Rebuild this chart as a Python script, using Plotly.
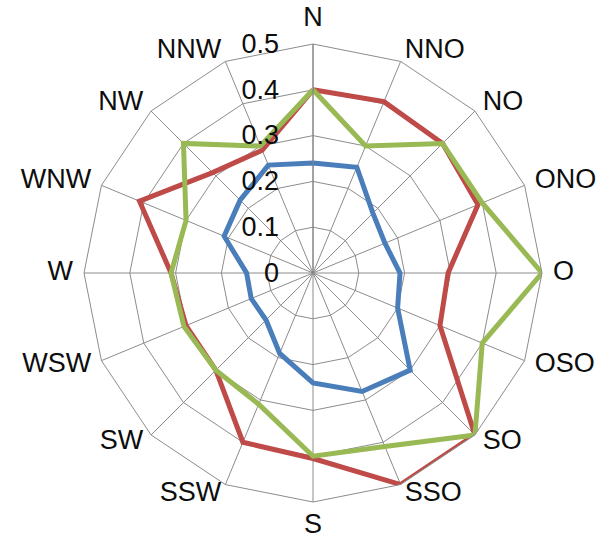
import math
import plotly.graph_objects as go

directions = ["N", "NNO", "NO", "ONO", "O", "OSO", "SO", "SSO",
              "S", "SSW", "SW", "WSW", "W", "WNW", "NW", "NNW"]

series_blue = [0.24, 0.25, 0.185, 0.17, 0.19, 0.20, 0.30, 0.28,
               0.24, 0.19, 0.145, 0.146, 0.145, 0.21, 0.225, 0.255]
series_red = [0.40, 0.405, 0.40, 0.39, 0.295, 0.30, 0.50, 0.50,
              0.405, 0.40, 0.30, 0.30, 0.31, 0.41, 0.31, 0.29]
series_green = [0.40, 0.30, 0.40, 0.40, 0.50, 0.40, 0.50, 0.41,
                0.40, 0.31, 0.30, 0.305, 0.31, 0.30, 0.40, 0.30]

radial_ticks = [0, 0.1, 0.2, 0.3, 0.4, 0.5]
radial_ticktext = ["0", "0.1", "0.2", "0.3", "0.4", "0.5"]
r_max = 0.5

colors = {"blue": "#4A7EBB", "red": "#BE4B48", "green": "#98B954"}
text_color = "#0d0d0d"
font_family = "Liberation Sans, Arial, sans-serif"

W, H = 599, 542
cx, cy, R = 313, 273, 229      # main radar: centre and outer radius (px)
R_lab = 250                     # overlay subplot radius used for category labels
label_gap = 11                  # px between outer ring and category labels

fig = go.Figure()
for name, vals in [("blue", series_blue), ("red", series_red), ("green", series_green)]:
    fig.add_trace(go.Scatterpolar(
        r=vals + vals[:1],
        theta=directions + directions[:1],
        mode="lines",
        line=dict(color=colors[name], width=5),
        name=name,
        showlegend=False,
        hoverinfo="r+theta",
    ))

# category labels, anchored by side just outside the outer ring (Excel style)
n = len(directions)
label_positions = []
for i in range(n):
    ang = 2 * math.pi * i / n  # clockwise from north
    sx = math.sin(ang)
    if abs(sx) < 0.1:
        label_positions.append("top center" if math.cos(ang) > 0 else "bottom center")
    elif sx > 0:
        label_positions.append("middle right")
    else:
        label_positions.append("middle left")

fig.add_trace(go.Scatterpolar(
    r=[(R + label_gap) / R_lab] * n,
    theta=directions,
    mode="text",
    text=directions,
    textposition=label_positions,
    textfont=dict(size=27, color=text_color, family=font_family),
    cliponaxis=False,
    showlegend=False,
    hoverinfo="skip",
    subplot="polar2",
))

angular_common = dict(
    type="category",
    categoryorder="array",
    categoryarray=directions,
    rotation=90,
    direction="clockwise",
)

fig.update_layout(
    width=W, height=H,
    margin=dict(l=0, r=0, t=0, b=0),
    paper_bgcolor="white",
    plot_bgcolor="white",
    font=dict(family=font_family, size=27, color=text_color),
    polar=dict(
        domain=dict(x=[(cx - R) / W, (cx + R) / W],
                    y=[(H - cy - R) / H, (H - cy + R) / H]),
        bgcolor="white",
        gridshape="linear",
        angularaxis=dict(
            **angular_common,
            showgrid=True,
            gridcolor="#8c8c8c",
            gridwidth=1,
            showline=True,
            linecolor="#8c8c8c",
            linewidth=1,
            ticks="",
            showticklabels=False,
        ),
        radialaxis=dict(
            range=[0, r_max],
            tickvals=radial_ticks,
            ticktext=radial_ticktext,
            angle=90,
            tickangle=90,
            side="counterclockwise",
            showgrid=True,
            gridcolor="#8c8c8c",
            gridwidth=1,
            showline=True,
            linecolor="#808080",
            linewidth=1,
            ticks="outside",
            ticklen=24,
            tickcolor="rgba(0,0,0,0)",
            tickfont=dict(size=27, color=text_color),
        ),
    ),
    polar2=dict(
        domain=dict(x=[(cx - R_lab) / W, (cx + R_lab) / W],
                    y=[(H - cy - R_lab) / H, (H - cy + R_lab) / H]),
        bgcolor="rgba(0,0,0,0)",
        gridshape="linear",
        angularaxis=dict(
            **angular_common,
            showgrid=False,
            showline=False,
            ticks="",
            showticklabels=False,
        ),
        radialaxis=dict(range=[0, 1], visible=False),
    ),
)

fig.write_html("out.html", config={"displayModeBar": False},
               post_script="document.body.style.margin='0';")
